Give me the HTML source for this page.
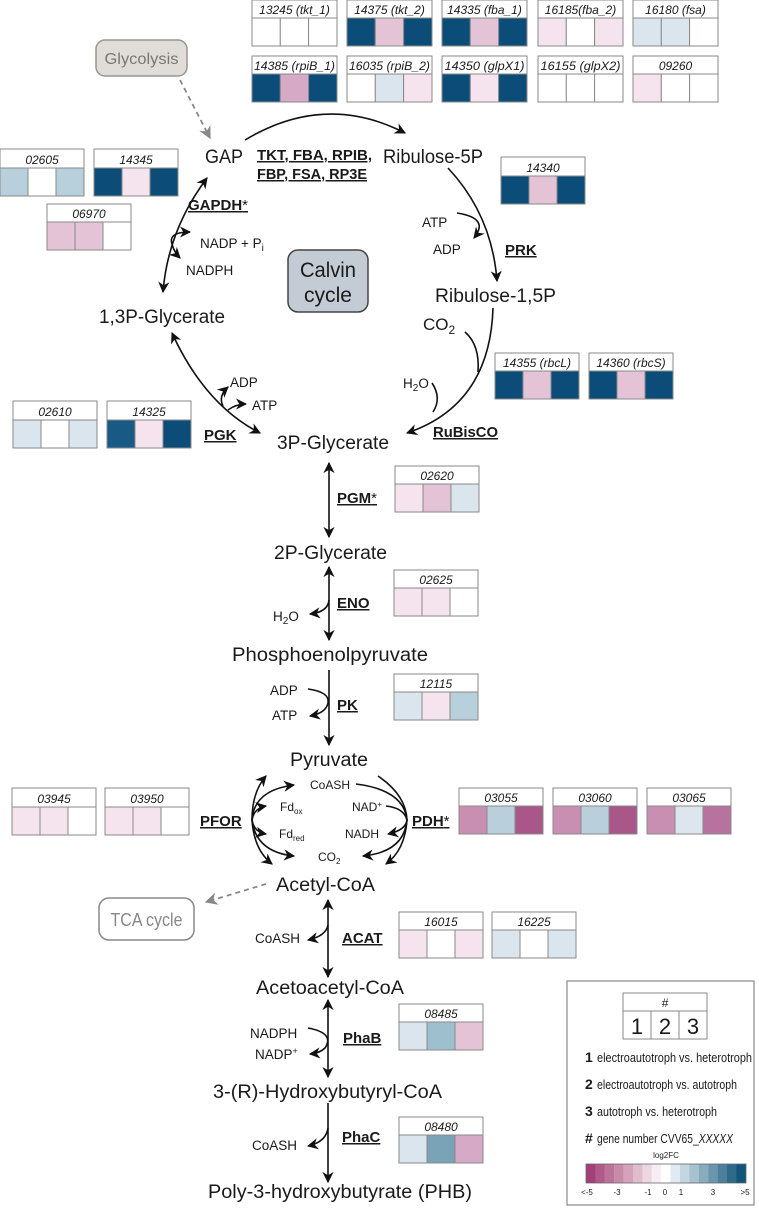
<!DOCTYPE html>
<html><head><meta charset="utf-8"><style>
html,body{margin:0;padding:0;background:#fff}
svg{display:block}
text{font-family:"Liberation Sans",sans-serif;fill:#1a1a1a}
.m{font-size:19px}
.h{font-size:12px;font-style:italic;text-anchor:middle}
.e{font-size:15px;font-weight:bold;text-decoration:underline}
.s{font-size:13.5px}
.c rect{stroke:#8a8a8a;stroke-width:1}
</style></head><body>
<svg width="759" height="1210" viewBox="0 0 759 1210" xmlns="http://www.w3.org/2000/svg">
<defs>
<marker id="a" viewBox="0 0 10 10" refX="9" refY="5" markerWidth="7" markerHeight="7" orient="auto-start-reverse"><path d="M0,0 L10,5 L0,10 L3,5 z" fill="#111"/></marker>
<marker id="g" viewBox="0 0 10 10" refX="9" refY="5" markerWidth="7" markerHeight="7" orient="auto"><path d="M0,0 L10,5 L0,10 L3,5 z" fill="#888"/></marker>
</defs>

<!-- gene boxes -->
<g class="c">
<g transform="translate(252,0)"><rect width="85" height="46" fill="#fff"/><rect y="18" width="28.3" height="28" fill="#fff"/><rect x="28.3" y="18" width="28.3" height="28" fill="#fff"/><rect x="56.6" y="18" width="28.4" height="28" fill="#fff"/><text class="h" x="42.5" y="14">13245 (tkt_1)</text></g>
<g transform="translate(347,0)"><rect width="85" height="46" fill="#fff"/><rect y="18" width="28.3" height="28" fill="#0b4d78"/><rect x="28.3" y="18" width="28.3" height="28" fill="#e3c3d5"/><rect x="56.6" y="18" width="28.4" height="28" fill="#0b4d78"/><text class="h" x="42.5" y="14">14375 (tkt_2)</text></g>
<g transform="translate(442,0)"><rect width="85" height="46" fill="#fff"/><rect y="18" width="28.3" height="28" fill="#0b4d78"/><rect x="28.3" y="18" width="28.3" height="28" fill="#e3c3d5"/><rect x="56.6" y="18" width="28.4" height="28" fill="#0b4d78"/><text class="h" x="42.5" y="14">14335 (fba_1)</text></g>
<g transform="translate(538,0)"><rect width="85" height="46" fill="#fff"/><rect y="18" width="28.3" height="28" fill="#f5e3ee"/><rect x="28.3" y="18" width="28.3" height="28" fill="#fff"/><rect x="56.6" y="18" width="28.4" height="28" fill="#f5e3ee"/><text class="h" x="42.5" y="14">16185(fba_2)</text></g>
<g transform="translate(633,0)"><rect width="85" height="46" fill="#fff"/><rect y="18" width="28.3" height="28" fill="#dbe5ee"/><rect x="28.3" y="18" width="28.3" height="28" fill="#dbe5ee"/><rect x="56.6" y="18" width="28.4" height="28" fill="#fff"/><text class="h" x="42.5" y="14">16180 (fsa)</text></g>

<g transform="translate(252,56)"><rect width="85" height="46" fill="#fff"/><rect y="18" width="28.3" height="28" fill="#0b4d78"/><rect x="28.3" y="18" width="28.3" height="28" fill="#d6a9c6"/><rect x="56.6" y="18" width="28.4" height="28" fill="#0b4d78"/><text class="h" x="42.5" y="14" textLength="81" lengthAdjust="spacingAndGlyphs">14385 (rpiB_1)</text></g>
<g transform="translate(347,56)"><rect width="85" height="46" fill="#fff"/><rect y="18" width="28.3" height="28" fill="#fff"/><rect x="28.3" y="18" width="28.3" height="28" fill="#dbe5ee"/><rect x="56.6" y="18" width="28.4" height="28" fill="#f5e3ee"/><text class="h" x="42.5" y="14" textLength="81" lengthAdjust="spacingAndGlyphs">16035 (rpiB_2)</text></g>
<g transform="translate(442,56)"><rect width="85" height="46" fill="#fff"/><rect y="18" width="28.3" height="28" fill="#0b4d78"/><rect x="28.3" y="18" width="28.3" height="28" fill="#f5e3ee"/><rect x="56.6" y="18" width="28.4" height="28" fill="#0b4d78"/><text class="h" x="42.5" y="14" textLength="80" lengthAdjust="spacingAndGlyphs">14350 (glpX1)</text></g>
<g transform="translate(538,56)"><rect width="85" height="46" fill="#fff"/><rect y="18" width="28.3" height="28" fill="#fff"/><rect x="28.3" y="18" width="28.3" height="28" fill="#fff"/><rect x="56.6" y="18" width="28.4" height="28" fill="#fff"/><text class="h" x="42.5" y="14" textLength="80" lengthAdjust="spacingAndGlyphs">16155 (glpX2)</text></g>
<g transform="translate(633,56)"><rect width="85" height="46" fill="#fff"/><rect y="18" width="28.3" height="28" fill="#f5e3ee"/><rect x="28.3" y="18" width="28.3" height="28" fill="#fff"/><rect x="56.6" y="18" width="28.4" height="28" fill="#fff"/><text class="h" x="42.5" y="14">09260</text></g>

<g transform="translate(0,149)"><rect width="84" height="47" fill="#fff"/><rect y="19" width="28" height="28" fill="#b8cfdc"/><rect x="28" y="19" width="28" height="28" fill="#fff"/><rect x="56" y="19" width="28" height="28" fill="#b8cfdc"/><text class="h" x="42" y="15">02605</text></g>
<g transform="translate(94,149)"><rect width="84" height="47" fill="#fff"/><rect y="19" width="28" height="28" fill="#0b4d78"/><rect x="28" y="19" width="28" height="28" fill="#f5e3ee"/><rect x="56" y="19" width="28" height="28" fill="#0b4d78"/><text class="h" x="42" y="15">14345</text></g>
<g transform="translate(47,204)"><rect width="84" height="46" fill="#fff"/><rect y="18" width="28" height="28" fill="#e3c3d5"/><rect x="28" y="18" width="28" height="28" fill="#e3c3d5"/><rect x="56" y="18" width="28" height="28" fill="#fff"/><text class="h" x="42" y="14">06970</text></g>
<g transform="translate(501,157)"><rect width="84" height="47" fill="#fff"/><rect y="19" width="28" height="28" fill="#0b4d78"/><rect x="28" y="19" width="28" height="28" fill="#e3c3d5"/><rect x="56" y="19" width="28" height="28" fill="#0b4d78"/><text class="h" x="42" y="15">14340</text></g>
<g transform="translate(495,353)"><rect width="84" height="46" fill="#fff"/><rect y="18" width="28" height="28" fill="#0b4d78"/><rect x="28" y="18" width="28" height="28" fill="#e3c3d5"/><rect x="56" y="18" width="28" height="28" fill="#0b4d78"/><text class="h" x="42" y="14">14355 (rbcL)</text></g>
<g transform="translate(589,353)"><rect width="84" height="46" fill="#fff"/><rect y="18" width="28" height="28" fill="#0b4d78"/><rect x="28" y="18" width="28" height="28" fill="#e3c3d5"/><rect x="56" y="18" width="28" height="28" fill="#0b4d78"/><text class="h" x="42" y="14">14360 (rbcS)</text></g>
<g transform="translate(13,401)"><rect width="84" height="47" fill="#fff"/><rect y="19" width="28" height="28" fill="#dbe5ee"/><rect x="28" y="19" width="28" height="28" fill="#fff"/><rect x="56" y="19" width="28" height="28" fill="#dbe5ee"/><text class="h" x="42" y="15">02610</text></g>
<g transform="translate(107,401)"><rect width="84" height="47" fill="#fff"/><rect y="19" width="28" height="28" fill="#185a85"/><rect x="28" y="19" width="28" height="28" fill="#f5e3ee"/><rect x="56" y="19" width="28" height="28" fill="#0b4d78"/><text class="h" x="42" y="15">14325</text></g>
<g transform="translate(395,466)"><rect width="84" height="46" fill="#fff"/><rect y="18" width="28" height="28" fill="#f5e3ee"/><rect x="28" y="18" width="28" height="28" fill="#e3c3d5"/><rect x="56" y="18" width="28" height="28" fill="#dbe5ee"/><text class="h" x="42" y="14">02620</text></g>
<g transform="translate(394,570)"><rect width="84" height="46" fill="#fff"/><rect y="18" width="28" height="28" fill="#f5e3ee"/><rect x="28" y="18" width="28" height="28" fill="#f5e3ee"/><rect x="56" y="18" width="28" height="28" fill="#fff"/><text class="h" x="42" y="14">02625</text></g>
<g transform="translate(394,674)"><rect width="84" height="46" fill="#fff"/><rect y="18" width="28" height="28" fill="#dbe5ee"/><rect x="28" y="18" width="28" height="28" fill="#f5e3ee"/><rect x="56" y="18" width="28" height="28" fill="#b8cfdc"/><text class="h" x="42" y="14">12115</text></g>
<g transform="translate(12,788)"><rect width="84" height="47" fill="#fff"/><rect y="19" width="28" height="28" fill="#f5e3ee"/><rect x="28" y="19" width="28" height="28" fill="#f5e3ee"/><rect x="56" y="19" width="28" height="28" fill="#fff"/><text class="h" x="42" y="15">03945</text></g>
<g transform="translate(105,788)"><rect width="84" height="47" fill="#fff"/><rect y="19" width="28" height="28" fill="#f5e3ee"/><rect x="28" y="19" width="28" height="28" fill="#f5e3ee"/><rect x="56" y="19" width="28" height="28" fill="#fff"/><text class="h" x="42" y="15">03950</text></g>
<g transform="translate(459,788)"><rect width="84" height="46" fill="#fff"/><rect y="18" width="28" height="28" fill="#c98fb3"/><rect x="28" y="18" width="28" height="28" fill="#b9d0dc"/><rect x="56" y="18" width="28" height="28" fill="#a85788"/><text class="h" x="42" y="14">03055</text></g>
<g transform="translate(553,788)"><rect width="84" height="46" fill="#fff"/><rect y="18" width="28" height="28" fill="#c98fb3"/><rect x="28" y="18" width="28" height="28" fill="#b9d0dc"/><rect x="56" y="18" width="28" height="28" fill="#a85788"/><text class="h" x="42" y="14">03060</text></g>
<g transform="translate(647,788)"><rect width="84" height="46" fill="#fff"/><rect y="18" width="28" height="28" fill="#c98fb3"/><rect x="28" y="18" width="28" height="28" fill="#dde6ef"/><rect x="56" y="18" width="28" height="28" fill="#b8729f"/><text class="h" x="42" y="14">03065</text></g>
<g transform="translate(399,912)"><rect width="84" height="46" fill="#fff"/><rect y="18" width="28" height="28" fill="#f5e3ee"/><rect x="28" y="18" width="28" height="28" fill="#fff"/><rect x="56" y="18" width="28" height="28" fill="#f5e3ee"/><text class="h" x="42" y="14">16015</text></g>
<g transform="translate(492,912)"><rect width="84" height="46" fill="#fff"/><rect y="18" width="28" height="28" fill="#dbe5ee"/><rect x="28" y="18" width="28" height="28" fill="#fff"/><rect x="56" y="18" width="28" height="28" fill="#dbe5ee"/><text class="h" x="42" y="14">16225</text></g>
<g transform="translate(399,1004)"><rect width="84" height="46" fill="#fff"/><rect y="18" width="28" height="28" fill="#dbe5ee"/><rect x="28" y="18" width="28" height="28" fill="#9ebfcd"/><rect x="56" y="18" width="28" height="28" fill="#e3c3d5"/><text class="h" x="42" y="14">08485</text></g>
<g transform="translate(399,1117)"><rect width="84" height="46" fill="#fff"/><rect y="18" width="28" height="28" fill="#dbe5ee"/><rect x="28" y="18" width="28" height="28" fill="#7ba3b8"/><rect x="56" y="18" width="28" height="28" fill="#d6a9c6"/><text class="h" x="42" y="14">08480</text></g>
</g>

<!-- Glycolysis / TCA / Calvin boxes -->
<rect x="96" y="40" width="91" height="36" rx="9" fill="#e0ddd8" stroke="#9a958f" stroke-width="1.5"/>
<text x="141.5" y="64" font-size="16" text-anchor="middle" style="fill:#777" textLength="74" lengthAdjust="spacingAndGlyphs">Glycolysis</text>
<path d="M180,80 L210,138" stroke="#888" stroke-width="1.8" stroke-dasharray="5,4" fill="none" marker-end="url(#g)"/>
<rect x="99" y="898" width="95" height="42" rx="10" fill="#fff" stroke="#888" stroke-width="1.5"/>
<text x="146.5" y="926" font-size="18" text-anchor="middle" style="fill:#888" textLength="72" lengthAdjust="spacingAndGlyphs">TCA cycle</text>
<path d="M266,884 L206,902" stroke="#888" stroke-width="1.8" stroke-dasharray="5,4" fill="none" marker-end="url(#g)"/>
<rect x="288" y="250" width="80" height="62" rx="10" fill="#c3ccd5" stroke="#444" stroke-width="1.5"/>
<text x="328" y="277" font-size="21" text-anchor="middle" textLength="56" lengthAdjust="spacingAndGlyphs">Calvin</text>
<text x="328" y="302" font-size="21" text-anchor="middle" textLength="48" lengthAdjust="spacingAndGlyphs">cycle</text>

<!-- metabolites -->
<g lengthAdjust="spacingAndGlyphs">
<text class="m" x="205" y="163" textLength="38" lengthAdjust="spacingAndGlyphs">GAP</text>
<text class="m" x="383" y="163" textLength="100" lengthAdjust="spacingAndGlyphs">Ribulose-5P</text>
<text class="m" x="435" y="302" textLength="121" lengthAdjust="spacingAndGlyphs">Ribulose-1,5P</text>
<text class="m" x="99" y="323" textLength="126" lengthAdjust="spacingAndGlyphs">1,3P-Glycerate</text>
<text class="m" x="277" y="449" textLength="112" lengthAdjust="spacingAndGlyphs">3P-Glycerate</text>
<text class="m" x="274" y="559" textLength="113" lengthAdjust="spacingAndGlyphs">2P-Glycerate</text>
<text class="m" x="232" y="661" textLength="196" lengthAdjust="spacingAndGlyphs">Phosphoenolpyruvate</text>
<text class="m" x="290" y="766" textLength="78" lengthAdjust="spacingAndGlyphs">Pyruvate</text>
<text class="m" x="276" y="891" textLength="99" lengthAdjust="spacingAndGlyphs">Acetyl-CoA</text>
<text class="m" x="256" y="994" textLength="148" lengthAdjust="spacingAndGlyphs">Acetoacetyl-CoA</text>
<text class="m" x="213" y="1098" textLength="229" lengthAdjust="spacingAndGlyphs">3-(R)-Hydroxybutyryl-CoA</text>
<text class="m" x="208" y="1198" textLength="264" lengthAdjust="spacingAndGlyphs">Poly-3-hydroxybutyrate (PHB)</text>
</g>

<!-- enzymes -->
<text class="e" x="257" y="160" textLength="115" lengthAdjust="spacingAndGlyphs">TKT, FBA, RPIB,</text>
<text class="e" x="257" y="179" textLength="110" lengthAdjust="spacingAndGlyphs">FBP, FSA, RP3E</text>
<text class="e" x="188" y="210">GAPDH<tspan style="font-weight:normal;text-decoration:none">*</tspan></text>
<text class="e" x="505" y="255">PRK</text>
<text class="e" x="433" y="437" textLength="65" lengthAdjust="spacingAndGlyphs">RuBisCO</text>
<text class="e" x="204" y="440">PGK</text>
<text class="e" x="337" y="503">PGM<tspan style="font-weight:normal">*</tspan></text>
<text class="e" x="337" y="608">ENO</text>
<text class="e" x="337" y="710">PK</text>
<text class="e" x="200" y="826" font-size="16">PFOR</text>
<text class="e" x="412" y="826" font-size="16">PDH<tspan style="font-weight:normal">*</tspan></text>
<text class="e" x="342" y="943">ACAT</text>
<text class="e" x="343" y="1043">PhaB</text>
<text class="e" x="342" y="1142">PhaC</text>

<!-- cofactors -->
<text class="s" x="200" y="248">NADP + P<tspan font-size="10" dy="3">i</tspan></text>
<text class="s" x="186" y="275">NADPH</text>
<text class="s" x="422" y="227">ATP</text>
<text class="s" x="433" y="254">ADP</text>
<text x="423" y="330" font-size="17">CO<tspan font-size="12" dy="4">2</tspan></text>
<text class="s" x="403" y="388">H<tspan font-size="10" dy="3">2</tspan><tspan dy="-3">O</tspan></text>
<text class="s" x="230" y="387">ADP</text>
<text class="s" x="252" y="410">ATP</text>
<text class="s" x="273" y="621">H<tspan font-size="10" dy="3">2</tspan><tspan dy="-3">O</tspan></text>
<text class="s" x="270" y="695">ADP</text>
<text class="s" x="272" y="720">ATP</text>
<text font-size="12" x="310" y="789">CoASH</text>
<text font-size="12" x="280" y="811">Fd<tspan font-size="8" dy="3">ox</tspan></text>
<text font-size="12" x="352" y="811">NAD<tspan font-size="8" dy="-4">+</tspan></text>
<text font-size="12" x="279" y="838">Fd<tspan font-size="8" dy="3">red</tspan></text>
<text font-size="12" x="345" y="838">NADH</text>
<text font-size="12" x="318" y="861">CO<tspan font-size="8" dy="3">2</tspan></text>
<text class="s" x="255" y="943">CoASH</text>
<text class="s" x="250" y="1038">NADPH</text>
<text class="s" x="255" y="1059">NADP<tspan font-size="9" dy="-5">+</tspan></text>
<text class="s" x="252" y="1150">CoASH</text>

<!-- arrows -->
<g stroke="#111" stroke-width="1.6" fill="none">
<path d="M245,140 Q325,92 405,133" marker-end="url(#a)"/>
<path d="M448,168 Q492,215 497,281" marker-end="url(#a)"/>
<path d="M457,213 Q490,218 474,238" marker-end="url(#a)"/>
<path d="M493,308 Q490,405 407,433" marker-end="url(#a)"/>
<path d="M465,332 Q480,345 478,372"/>
<path d="M432,383 Q442,398 433,412"/>
<path d="M207,178 Q168,230 163,292" marker-start="url(#a)" marker-end="url(#a)"/>
<path d="M190,232 Q168,232 172,244 Q174,252 180,258" marker-start="url(#a)" marker-end="url(#a)"/>
<path d="M172,333 Q205,405 260,433" marker-start="url(#a)" marker-end="url(#a)"/>
<path d="M223,406 Q218,396 228,387" marker-end="url(#a)"/>
<path d="M228,410 Q236,404 246,404" marker-end="url(#a)"/>
<path d="M329,463 L329,537" marker-start="url(#a)" marker-end="url(#a)"/>
<path d="M329,567 L329,640" marker-start="url(#a)" marker-end="url(#a)"/>
<path d="M329,600 Q328,612 310,614" marker-end="url(#a)"/>
<path d="M329,670 L329,745" marker-end="url(#a)"/>
<path d="M308,689 Q330,692 328,703 Q326,713 310,716" marker-end="url(#a)"/>
<path d="M252,820 Q252,792 266,776" marker-end="url(#a)"/>
<path d="M252,820 Q254,790 294,785" marker-end="url(#a)"/>
<path d="M252,820 Q254,808 266,806" marker-end="url(#a)"/>
<path d="M252,820 Q254,832 266,834" marker-end="url(#a)"/>
<path d="M252,820 Q256,852 294,856" marker-end="url(#a)"/>
<path d="M252,820 Q254,850 272,864" marker-end="url(#a)"/>
<path d="M378,776 Q406,795 407,820"/>
<path d="M356,784 Q404,790 407,820"/>
<path d="M386,806 Q404,808 407,820"/>
<path d="M407,820 Q406,830 388,834" marker-end="url(#a)"/>
<path d="M407,820 Q404,852 363,856" marker-end="url(#a)"/>
<path d="M407,820 Q405,850 386,864" marker-end="url(#a)"/>
<path d="M328,900 L328,977" marker-start="url(#a)" marker-end="url(#a)"/>
<path d="M328,925 Q326,936 308,940" marker-end="url(#a)"/>
<path d="M328,1000 L328,1077" marker-start="url(#a)" marker-end="url(#a)"/>
<path d="M308,1028 Q335,1033 325,1048 Q320,1053 310,1054" marker-end="url(#a)"/>
<path d="M328,1103 L328,1182" marker-end="url(#a)"/>
<path d="M328,1128 Q326,1142 308,1146" marker-end="url(#a)"/>
</g>

<!-- legend -->
<rect x="567" y="981" width="187" height="224" fill="#fff" stroke="#888" stroke-width="1.2"/>
<g class="c">
<rect x="623" y="993" width="84" height="46" fill="#fff"/>
<rect x="623" y="1011" width="28" height="28" fill="#fff"/>
<rect x="651" y="1011" width="28" height="28" fill="#fff"/>
<rect x="679" y="1011" width="28" height="28" fill="#fff"/>
</g>
<text class="h" x="665" y="1007">#</text>
<text x="637" y="1034" font-size="22" text-anchor="middle">1</text>
<text x="665" y="1034" font-size="22" text-anchor="middle">2</text>
<text x="693" y="1034" font-size="22" text-anchor="middle">3</text>
<g font-size="13">
<text x="585" y="1062" font-weight="bold" font-size="14">1</text><text x="597" y="1062" textLength="155" lengthAdjust="spacingAndGlyphs">electroautotroph vs. heterotroph</text>
<text x="585" y="1089" font-weight="bold" font-size="14">2</text><text x="597" y="1089" textLength="140" lengthAdjust="spacingAndGlyphs">electroautotroph vs. autotroph</text>
<text x="585" y="1116" font-weight="bold" font-size="14">3</text><text x="597" y="1116" textLength="120" lengthAdjust="spacingAndGlyphs">autotroph vs. heterotroph</text>
<text x="585" y="1143" font-weight="bold" font-size="14">#</text><text x="597" y="1143" textLength="136" lengthAdjust="spacingAndGlyphs">gene number CVV65_<tspan font-style="italic">XXXXX</tspan></text>
</g>
<text x="666" y="1158" font-size="8" text-anchor="middle">log2FC</text>
<g stroke="none">
<rect x="586" y="1164" width="9.5" height="19" fill="#a43f7a"/>
<rect x="595.4" y="1164" width="9.5" height="19" fill="#b05a8a"/>
<rect x="604.8" y="1164" width="9.5" height="19" fill="#bc7299"/>
<rect x="614.2" y="1164" width="9.5" height="19" fill="#c88aa9"/>
<rect x="623.6" y="1164" width="9.5" height="19" fill="#d4a3bb"/>
<rect x="633" y="1164" width="9.5" height="19" fill="#e0bdcd"/>
<rect x="642.4" y="1164" width="9.5" height="19" fill="#ecd7e1"/>
<rect x="651.8" y="1164" width="9.5" height="19" fill="#f7eef3"/>
<rect x="661.2" y="1164" width="9.5" height="19" fill="#ffffff"/>
<rect x="670.6" y="1164" width="9.5" height="19" fill="#e1eaf1"/>
<rect x="680" y="1164" width="9.5" height="19" fill="#c4d6e1"/>
<rect x="689.4" y="1164" width="9.5" height="19" fill="#a6c1d0"/>
<rect x="698.8" y="1164" width="9.5" height="19" fill="#88abbe"/>
<rect x="708.2" y="1164" width="9.5" height="19" fill="#6a95ad"/>
<rect x="717.6" y="1164" width="9.5" height="19" fill="#4b7f9b"/>
<rect x="727" y="1164" width="9.5" height="19" fill="#2e6a8a"/>
<rect x="736.4" y="1164" width="9.6" height="19" fill="#125578"/>
</g>
<rect x="586" y="1164" width="160" height="19" fill="none" stroke="#666" stroke-width="0.8"/>
<g font-size="8" text-anchor="middle">
<text x="587" y="1195">&lt;-5</text><text x="617" y="1195">-3</text><text x="648" y="1195">-1</text><text x="665" y="1195">0</text><text x="681" y="1195">1</text><text x="713" y="1195">3</text><text x="745" y="1195">&gt;5</text>
</g>
</svg>
</body></html>
